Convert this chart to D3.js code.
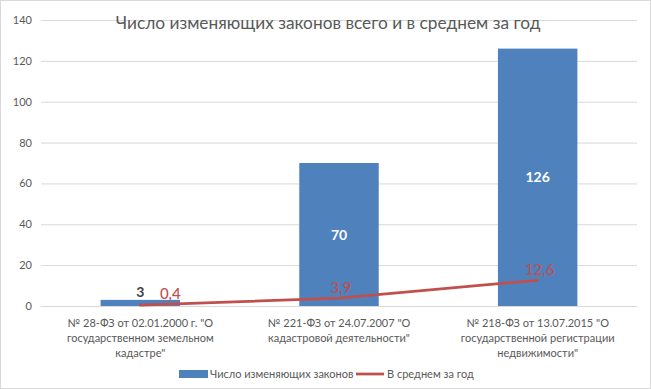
<!DOCTYPE html>
<html>
<head>
<meta charset="utf-8">
<script src="https://d3js.org/d3.v7.min.js"></script>
<style>
  body { margin: 0; background: #fff; }
  svg text { font-family: Lato, "Open Sans", sans-serif; }
</style>
</head>
<body>
<svg id="chart" width="651" height="389"></svg>
<script>
// data
var categories = [
  ['№ 28-ФЗ от 02.01.2000 г. "О', 'государственном земельном', 'кадастре"'],
  ['№ 221-ФЗ от 24.07.2007 "О', 'кадастровой деятельности"'],
  ['№ 218-ФЗ от 13.07.2015 "О', 'государственной регистрации', 'недвижимости"']
];
var totalLaws = [3, 70, 126];
var perYear = [0.4, 3.9, 12.6];
var yTicks = [0, 20, 40, 60, 80, 100, 120, 140];
var seriesNames = ["Число изменяющих законов", "В среднем за год"];
var title = "Число изменяющих законов всего и в среднем за год";

var blue = "#4F81BD", red = "#C0504D", grey = "#595959";

var svg = d3.select("#chart");

// chart border
svg.append("rect")
  .attr("x", 0.5).attr("y", 0.5)
  .attr("width", 650).attr("height", 388)
  .attr("fill", "#fff")
  .attr("stroke", "#D9D9D9");

var plot = {left: 41, right: 637, top: 20, bottom: 306};

var x = d3.scaleBand()
  .domain(d3.range(categories.length))
  .range([plot.left, plot.right])
  .paddingInner(0.6)
  .paddingOuter(0.3);

var xc = d3.scalePoint()
  .domain(d3.range(categories.length))
  .range([plot.left, plot.right])
  .padding(0.5);

var y = d3.scaleLinear()
  .domain([0, 140])
  .range([plot.bottom, plot.top]);

// gridlines + y labels
var yAxis = svg.append("g")
  .attr("transform", "translate(" + plot.left + ",0)")
  .call(d3.axisLeft(y).tickValues(yTicks).tickSize(-(plot.right - plot.left)).tickPadding(9));
yAxis.select(".domain").remove();
yAxis.selectAll(".tick line").attr("stroke", "#D9D9D9").attr("stroke-width", 1);
yAxis.selectAll(".tick text")
  .attr("fill", grey)
  .style("font-size", "11px");

// title
svg.append("text")
  .attr("x", 328)
  .attr("y", 29)
  .attr("text-anchor", "middle")
  .attr("fill", grey)
  .style("font-size", "17.3px")
  .text(title);

// bars
svg.append("g").selectAll("rect")
  .data(totalLaws)
  .enter().append("rect")
    .attr("x", function(d, i) { return x(i); })
    .attr("y", function(d) { return y(d); })
    .attr("width", x.bandwidth())
    .attr("height", function(d) { return y(0) - y(d); })
    .attr("fill", blue);

// bar labels
svg.append("g").selectAll("text")
  .data(totalLaws)
  .enter().append("text")
    .attr("x", function(d, i) { return xc(i); })
    .attr("y", function(d) {
      // small bar: label sits above it
      if (y(0) - y(d) < 20) return y(d) - 3;
      return (y(d) + y(0)) / 2 + 5;
    })
    .attr("text-anchor", "middle")
    .attr("fill", function(d) { return (y(0) - y(d) < 20) ? "#404040" : "#fff"; })
    .style("font-size", "14px")
    .style("font-weight", "bold")
    .text(function(d) { return d; });

// line
var line = d3.line()
  .x(function(d, i) { return xc(i); })
  .y(function(d) { return y(d); });

svg.append("path")
  .datum(perYear)
  .attr("d", line)
  .attr("fill", "none")
  .attr("stroke", red)
  .attr("stroke-width", 2.75)
  .attr("stroke-linecap", "round");

// line labels
svg.append("g").selectAll("text")
  .data(perYear)
  .enter().append("text")
    .attr("x", function(d, i) { return xc(i) + (i === 0 ? 30 : 2); })
    .attr("y", function(d, i) { return y(d) - (i === 0 ? 6 : 5); })
    .attr("text-anchor", "middle")
    .attr("fill", red)
    .style("font-size", "15px")
    .style("font-weight", "500")
    .text(function(d) { return String(d).replace(".", ","); });

// x labels
var xl = svg.append("g").selectAll("text")
  .data(categories)
  .enter().append("text")
    .attr("text-anchor", "middle")
    .attr("fill", grey)
    .style("font-size", "11px");
xl.each(function(lines, i) {
  var t = d3.select(this);
  lines.forEach(function(s, j) {
    t.append("tspan")
      .attr("x", xc(i))
      .attr("y", 327 + j * 15)
      .text(s);
  });
});

// legend
var legend = svg.append("g");
legend.append("rect")
  .attr("x", 179).attr("y", 370)
  .attr("width", 29).attr("height", 8)
  .attr("fill", blue);
legend.append("text")
  .attr("x", 210).attr("y", 378)
  .attr("fill", grey)
  .style("font-size", "11px")
  .text(seriesNames[0]);
legend.append("line")
  .attr("x1", 356).attr("x2", 384)
  .attr("y1", 374).attr("y2", 374)
  .attr("stroke", red)
  .attr("stroke-width", 2.75);
legend.append("text")
  .attr("x", 387).attr("y", 378)
  .attr("fill", grey)
  .style("font-size", "11px")
  .text(seriesNames[1]);
</script>
</body>
</html>
